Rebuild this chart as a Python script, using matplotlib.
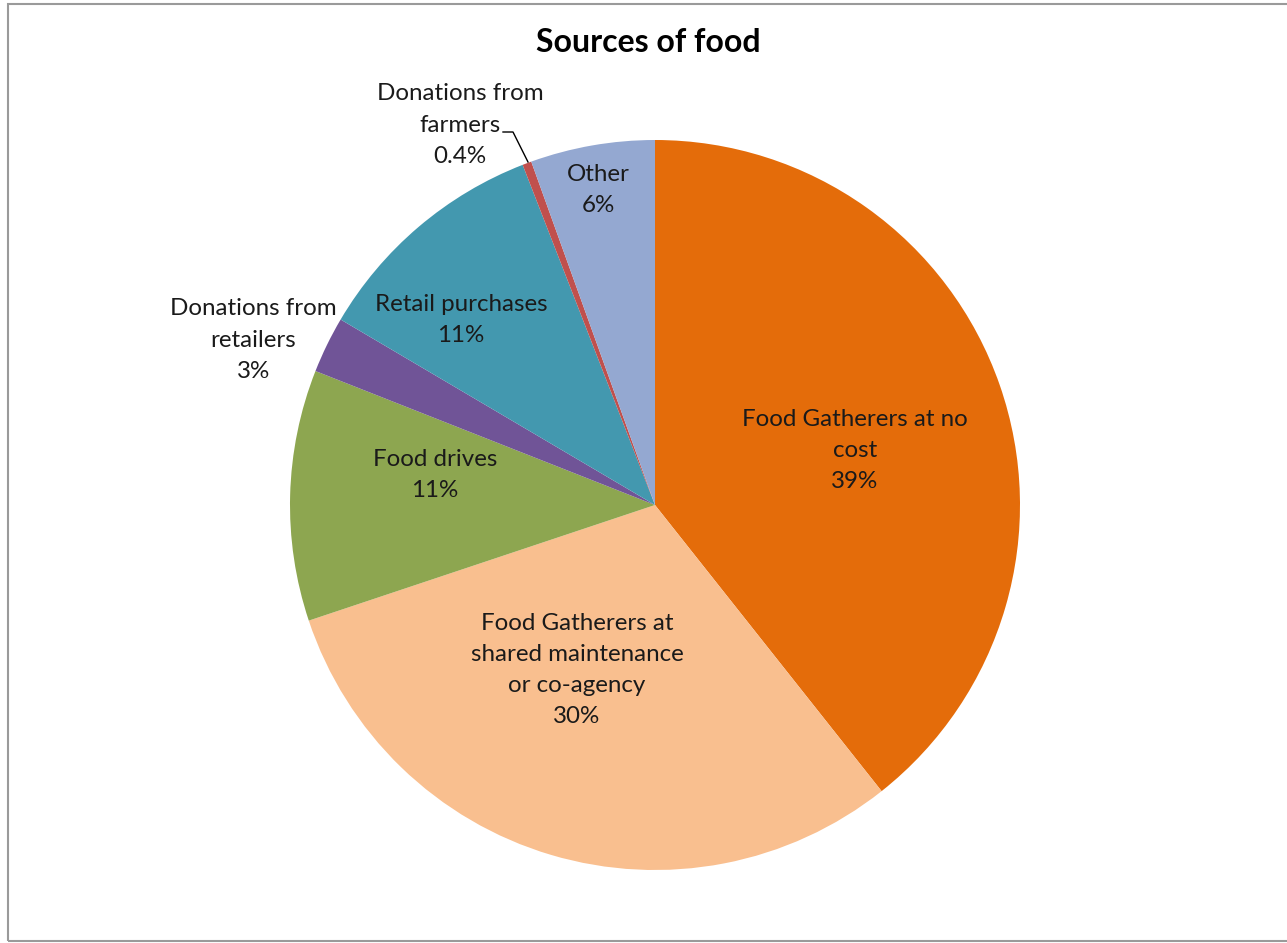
import matplotlib.pyplot as plt

# slices, clockwise from 12 o'clock
labels = ['Food Gatherers at no\ncost', 'Food Gatherers at\nshared maintenance\nor co-agency',
          'Food drives', 'Donations from\nretailers', 'Retail purchases',
          'Donations from\nfarmers', 'Other']
values = [39.3, 30.5, 11.1, 2.5, 10.6, 0.4, 5.5]
pct_text = ['39%', '30%', '11%', '3%', '11%', '0.4%', '6%']
colors = ['#E46C0A', '#F9BF8F', '#8DA650', '#705497', '#4398AF', '#C0504D', '#94A8D1']

# label centres in pie units (radius = 1)
label_pos = [(0.548, 0.150), (-0.214, -0.452), (-0.603, 0.082), (-1.101, 0.452),
             (-0.532, 0.507), (-0.534, 1.041), (-0.156, 0.863)]

plt.rcParams['font.family'] = ['Lato', 'DejaVu Sans']

fig = plt.figure(figsize=(12.87, 9.43), dpi=100)

# chart frame
frame = plt.Rectangle((8 / 1287, 2 / 943), 1.0, 937 / 943, transform=fig.transFigure,
                      fill=False, edgecolor='#9a9a9a', linewidth=1.5)
fig.patches.append(frame)

fig.text(648 / 1287, 1 - 42 / 943, 'Sources of food', ha='center', va='center',
         fontsize=23, fontweight='bold', color='black')

ax = fig.add_axes([290 / 1287, 1 - 870 / 943, 730 / 1287, 730 / 943])
ax.pie(values, colors=colors, startangle=90, counterclock=False, radius=1.0)
ax.set_xlim(-1, 1)
ax.set_ylim(-1, 1)
ax.set_aspect('equal')
ax.axis('off')

for lab, pct, (x, y) in zip(labels, pct_text, label_pos):
    ax.text(x, y, lab + '\n' + pct, ha='center', va='center', fontsize=17.4,
            linespacing=1.6, color='#1a1a1a', clip_on=False)

# leader line for the tiny farmers slice
ax.plot([(503 - 655) / 365, (513 - 655) / 365, (528 - 655) / 365],
        [(505 - 132) / 365, (505 - 132) / 365, (505 - 162) / 365],
        color='black', linewidth=1, clip_on=False)

fig.savefig('out.png', dpi=100)
